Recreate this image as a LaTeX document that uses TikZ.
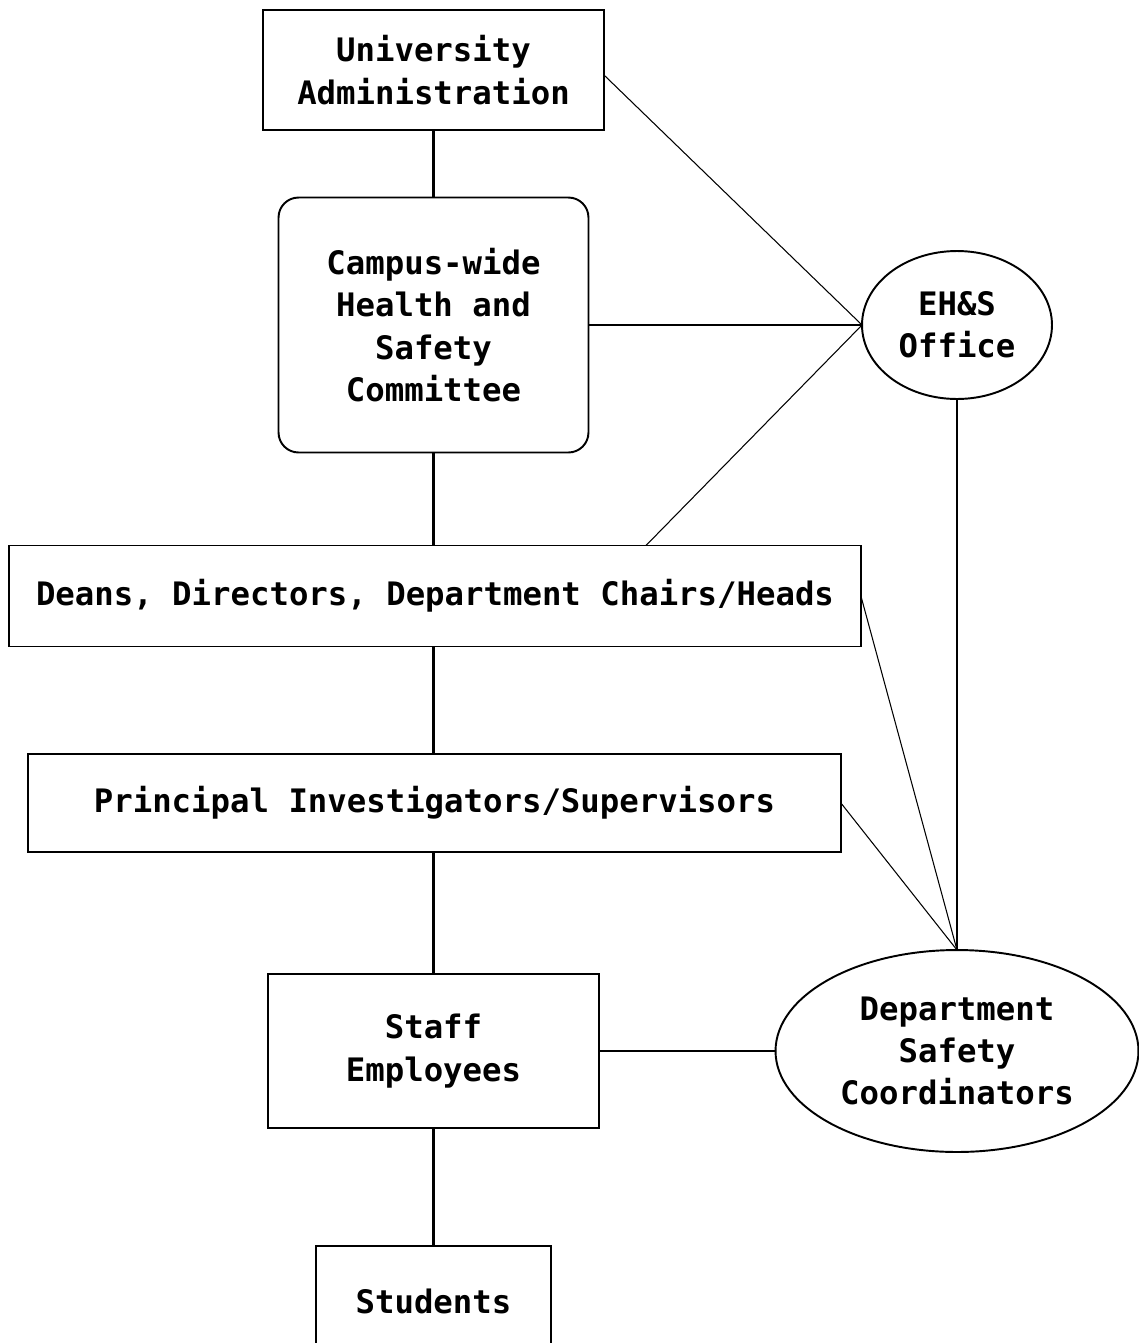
\documentclass[tikz,border=0pt]{standalone}
\usepackage{fontspec}
\setmainfont{DejaVu Sans Mono}
\usetikzlibrary{shapes.geometric}

\tikzset{
  unit/.style={rectangle, draw, line width=1.1pt, inner sep=0pt, outer sep=0pt,
               align=center, font=\bfseries\fontsize{18.4}{24}\selectfont},
  office/.style={unit, ellipse},
  link/.style={line width=1.2pt},
  thinlink/.style={line width=0.6pt}
}

\begin{document}
\begin{tikzpicture}[x=0.02cm, y=-0.02cm]
\clip (0,0) rectangle (1139,1343);
% units
\node[unit, minimum width=6.82cm, minimum height=2.4cm] (admin) at (433.5,70)
  {University\\Administration};
\node[unit, rounded corners=0.4cm, minimum width=6.2cm, minimum height=5.1cm] (committee) at (433.5,325)
  {Campus-wide\\Health and\\Safety\\Committee};
\node[unit, minimum width=17.04cm, minimum height=2.02cm] (deans) at (435,596)
  {Deans, Directors, Department Chairs/Heads};
\node[unit, minimum width=16.26cm, minimum height=1.96cm] (pis) at (434.5,803)
  {Principal Investigators/Supervisors};
\node[unit, minimum width=6.62cm, minimum height=3.08cm] (staff) at (433.5,1051)
  {Staff\\Employees};
\node[unit, minimum width=4.7cm, minimum height=2.2cm] (students) at (433.5,1301)
  {Students};
% offices
\node[office, minimum width=3.8cm, minimum height=2.96cm] (ehs) at (957,325)
  {EH\&S\\Office};
\node[office, minimum width=7.26cm, minimum height=4.04cm] (dsc) at (957,1051)
  {Department\\Safety\\Coordinators};
% chain of responsibility
\draw[link] (admin) -- (committee);
\draw[link] (committee.south) -- (committee.south |- deans.north);
\draw[link] (deans.south -| committee.south) -- (committee.south |- pis.north);
\draw[link] (pis.south -| staff.north) -- (staff.north);
\draw[link] (staff) -- (students);
% links to the offices
\draw[thinlink] ([yshift=-0.1cm]admin.east) -- (ehs.west);
\draw[link] (committee.east) -- (ehs.west);
\draw[thinlink] ([xshift=-4.3cm]deans.north east) -- (ehs.west);
\draw[link] (ehs.south) -- (dsc.north);
\draw[thinlink] (deans.east) -- (dsc.north);
\draw[thinlink] (pis.east) -- (dsc.north);
\draw[link] (staff.east) -- (dsc.west);
\end{tikzpicture}
\end{document}
